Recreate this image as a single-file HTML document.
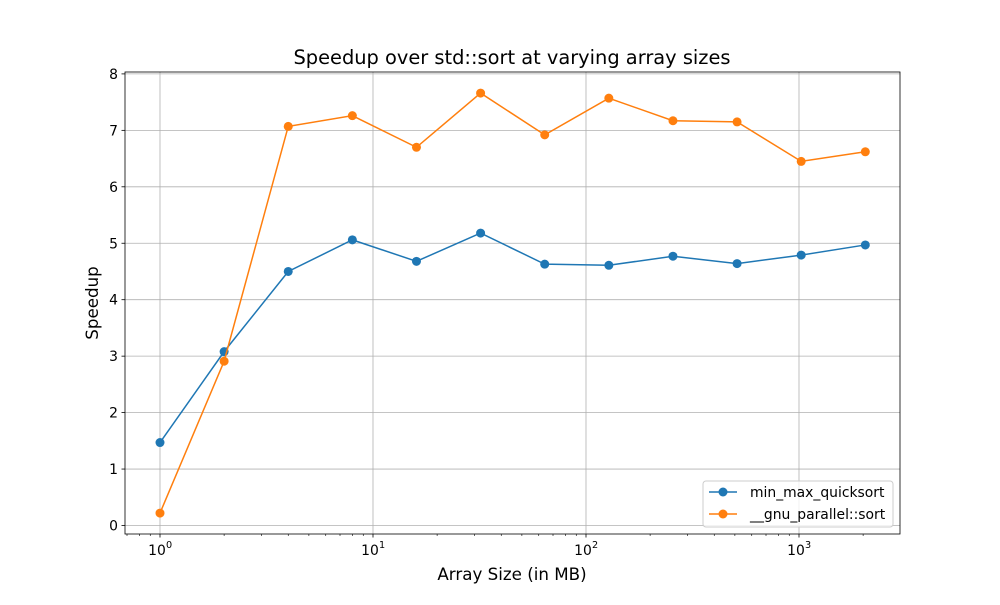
<!DOCTYPE html>
<html><head><meta charset="utf-8"><style>
body{margin:0;background:#fff;}
svg text{font-family:"DejaVu Sans","Liberation Sans",sans-serif;fill:#000;}
</style></head><body>
<svg id="chart" width="1000" height="600" xmlns="http://www.w3.org/2000/svg">
<rect width="1000" height="600" fill="#fff"/>
<g id="grid"></g>
<g id="axes"></g>
<g id="series"></g>
<text x="512" y="64" font-size="19.4" text-anchor="middle">Speedup over std::sort at varying array sizes</text>
<text x="512" y="580" font-size="16.7" text-anchor="middle">Array Size (in MB)</text>
<text transform="translate(98,303) rotate(-90)" font-size="16.7" text-anchor="middle">Speedup</text>
<g>
<rect x="703" y="481" width="190" height="46" rx="3" fill="#fff" fill-opacity="0.8" stroke="#ccc"/>
<g>
<line x1="709" y1="492" x2="737" y2="492" stroke="#1f77b4" stroke-width="1.5"/><circle cx="723" cy="492" r="4.5" fill="#1f77b4"/>
<text x="750" y="497" font-size="13.9">min_max_quicksort</text></g>
<g>
<line x1="709" y1="514" x2="737" y2="514" stroke="#ff7f0e" stroke-width="1.5"/><circle cx="723" cy="514" r="4.5" fill="#ff7f0e"/>
<text x="750" y="519" font-size="13.9">__gnu_parallel::sort</text></g>
</g>
</svg>
<script>
const sizes=[1,2,4,8,16,32,64,128,256,512,1024,2048];
const minMax=[1.47,3.08,4.50,5.06,4.68,5.18,4.63,4.61,4.77,4.64,4.79,4.97];
const gnuPar=[0.22,2.91,7.07,7.26,6.70,7.66,6.92,7.57,7.17,7.15,6.45,6.62];
const yTicks=[0,1,2,3,4,5,6,7,8];
const xTicks=[0,1,2,3];
const L=125,R=900,T=72,B=534;
const xs=v=>160+213*Math.log10(v);
const ys=v=>525.5-56.45*v;
const NS="http://www.w3.org/2000/svg";
function mk(p,t,a){const e=document.createElementNS(NS,t);for(const k in a)e.setAttribute(k,a[k]);p.appendChild(e);return e;}
const grid=document.getElementById('grid'),axes=document.getElementById('axes'),ser=document.getElementById('series');
yTicks.forEach(v=>{const y=ys(v);
 const g=mk(grid,'line',{x1:L,x2:R,y1:y,y2:y,stroke:'#b0b0b0','stroke-width':0.8});
 
 mk(axes,'line',{x1:L-3.5,x2:L,y1:y,y2:y,stroke:'#000','stroke-width':0.8});
 const t=mk(axes,'text',{x:L-7,y:y+5,'font-size':13.9,'text-anchor':'end'});t.textContent=v;
 });
xTicks.forEach(p=>{const x=xs(Math.pow(10,p));
 const g=mk(grid,'line',{x1:x,x2:x,y1:T,y2:B,stroke:'#b0b0b0','stroke-width':0.8});
 
 mk(axes,'line',{x1:x,x2:x,y1:B,y2:B+3.5,stroke:'#000','stroke-width':0.8});
 const t=mk(axes,'text',{x:x-3,y:B+21,'font-size':13.9,'text-anchor':'middle'});t.textContent='10';
 
 const s=mk(axes,'text',{x:x+6,y:B+14,'font-size':9.7});s.textContent=p;});
for(let p=-1;p<4;p++)for(let m=2;m<10;m++){const x=xs(m*Math.pow(10,p));if(x>L&&x<R)mk(axes,'line',{x1:x,x2:x,y1:B,y2:B+2,stroke:'#000','stroke-width':0.6});}
mk(axes,'rect',{x:L,y:T,width:R-L,height:B-T,fill:'none',stroke:'#000','stroke-width':0.8});
function draw(vals,col,name){
 const pl=mk(ser,'polyline',{points:vals.map((v,i)=>xs(sizes[i])+','+ys(v)).join(' '),fill:'none',stroke:col,'stroke-width':1.5});
 
 vals.forEach((v,i)=>{const c=mk(ser,'circle',{cx:xs(sizes[i]),cy:ys(v),r:4.5,fill:col});
  });}
draw(minMax,'#1f77b4','min-max-quicksort');
draw(gnuPar,'#ff7f0e','gnu-parallel-sort');
</script>
</body></html>
